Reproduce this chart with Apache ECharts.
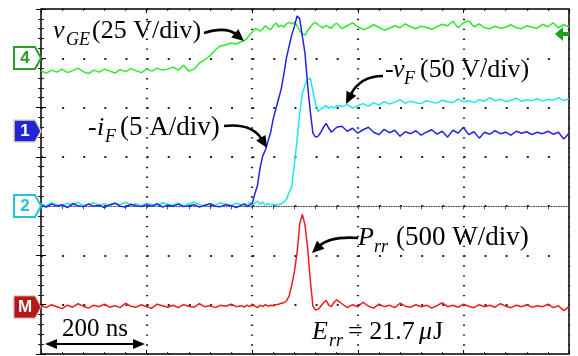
<!DOCTYPE html>
<html>
<head>
<meta charset="utf-8">
<script src="https://cdn.jsdelivr.net/npm/echarts@6.0.0/dist/echarts.min.js"></script>
<style>
html,body{margin:0;padding:0;background:#fff;}
#chart{width:578px;height:356px;}
</style>
</head>
<body>
<div id="chart"></div>
<script>
// time base (ns), 200 ns per horizontal division
const T = [0,10,20,30,40,50,60,70,80,90,100,110,120,130,140,150,160,170,180,190,200,210,220,230,240,250,260,270,280,290,300,310,320,330,340,350,360,370,380,
385,390,395,400,405,410,415,420,425,430,435,440,445,450,455,460,465,470,475,480,485,490,495,500,505,510,515,520,525,530,535,540,545,550,555,560,
570,580,590,600,610,620,630,640,650,660,670,680,690,700,710,720,730,740,750,760,770,780,790,800,810,820,830,840,850,860,870,880,890,900,910,920,930,940,950,960,970,980,990,1000];

// traces in screen divisions (0 = bottom edge, 7 = top edge)
const vGE = [5.74,5.70,5.76,5.72,5.78,5.71,5.75,5.80,5.73,5.69,5.76,5.72,5.78,5.74,5.70,5.77,5.73,5.79,5.75,5.71,5.78,5.74,5.80,5.76,5.78,5.82,5.76,5.86,5.74,5.78,5.90,5.97,6.05,6.17,6.25,6.27,6.31,6.29,6.34,
6.36,6.40,6.47,6.53,6.60,6.59,6.55,6.60,6.66,6.61,6.58,6.66,6.72,6.64,6.67,6.63,6.70,6.73,6.70,6.74,6.66,6.56,6.49,6.47,6.56,6.63,6.70,6.73,6.68,6.64,6.62,6.67,6.63,6.61,6.68,6.71,
6.60,6.66,6.72,6.64,6.58,6.62,6.68,6.63,6.57,6.61,6.66,6.62,6.70,6.64,6.60,6.65,6.63,6.59,6.64,6.69,6.66,6.75,6.62,6.72,6.76,6.64,6.70,6.62,6.60,6.65,6.61,6.63,6.68,6.62,6.60,6.66,6.63,6.61,6.69,6.64,6.72,6.62,6.68,6.64];

const iF = [3.02,2.98,3.04,3.00,3.03,2.97,3.05,3.01,2.99,3.04,3.00,3.02,2.97,3.03,3.06,3.00,2.98,3.04,3.01,2.99,3.03,3.00,3.05,2.98,3.02,3.00,3.04,2.99,3.01,3.03,2.98,3.02,3.05,3.00,2.99,3.03,3.01,2.97,3.02,
3.04,2.99,3.02,3.05,3.25,3.42,3.78,4.02,4.14,4.32,4.50,4.78,4.98,5.18,5.38,5.68,6.02,6.25,6.48,6.65,6.86,6.80,6.45,6.10,5.45,4.92,4.48,4.40,4.42,4.50,4.60,4.68,4.58,4.50,4.55,4.60,
4.62,4.52,4.58,4.48,4.55,4.60,4.50,4.45,4.56,4.49,4.54,4.42,4.51,4.47,4.53,4.44,4.50,4.55,4.46,4.52,4.40,4.54,4.48,4.60,4.45,4.51,4.38,4.50,4.46,4.53,4.47,4.50,4.44,4.52,4.48,4.51,4.45,4.50,4.47,4.52,4.46,4.50,4.36,4.48];

const vF = [3.05,3.01,3.07,3.03,3.00,3.06,3.02,3.08,3.01,3.04,3.07,3.02,3.05,3.00,3.06,3.03,3.08,3.02,3.05,3.01,3.06,3.03,3.00,3.07,3.04,3.02,3.06,3.01,3.05,3.08,3.03,3.00,3.05,3.02,3.07,3.04,3.01,3.06,3.03,
3.05,3.02,3.08,3.03,3.06,3.10,3.04,3.08,3.02,3.05,3.03,3.04,3.02,3.03,3.05,3.08,3.14,3.28,3.40,3.87,4.34,4.89,5.28,5.46,5.56,5.60,5.34,5.08,4.92,4.97,5.00,5.04,4.98,5.02,4.99,5.04,
5.02,5.06,4.99,5.04,5.08,5.03,5.10,5.05,5.12,5.07,5.11,5.16,5.09,5.13,5.10,5.08,5.14,5.11,5.09,5.15,5.12,5.10,5.17,5.12,5.14,5.10,5.16,5.13,5.20,5.14,5.17,5.12,5.15,5.19,5.13,5.16,5.14,5.18,5.13,5.17,5.15,5.20,5.14,5.18];

const Prr = [0.98,0.94,1.00,0.96,0.92,0.99,0.95,1.02,0.97,0.93,0.99,0.96,1.01,0.95,0.98,0.94,1.03,0.97,0.95,1.00,0.96,0.93,1.01,0.98,0.95,0.99,0.94,1.00,0.97,0.95,1.02,0.96,0.98,0.94,0.99,0.97,1.01,0.96,0.98,
0.95,0.99,0.96,1.01,0.97,0.94,0.99,0.96,1.00,0.97,0.99,0.98,1.00,1.01,1.03,1.04,1.08,1.18,1.40,1.68,2.05,2.64,2.83,2.62,2.14,1.50,0.97,0.89,0.91,0.97,1.04,1.09,0.99,0.96,1.05,1.10,
1.02,0.94,1.00,0.96,1.05,0.97,0.93,1.01,0.96,0.99,0.94,1.03,0.97,0.95,1.00,0.96,0.99,0.93,0.98,1.04,0.96,0.99,0.95,1.01,0.97,0.94,1.00,0.96,0.99,0.95,1.02,0.97,0.94,0.99,0.96,1.00,0.95,0.98,0.96,1.01,0.94,0.98,0.88,0.96];

const X_RANGE = [0, 1000];   // ns
const Y_RANGE = [0, 7];      // divisions
const CENTER_DIV = 3;

const pairs = arr => T.map((t, i) => [t, arr[i]]);

const SERIF = '"Liberation Serif", "Times New Roman", serif';
function txt(str, x, baseline, size, italic) {
  return {
    type: 'text', x: x, y: baseline - 0.34 * size, z: 100,
    style: {
      text: str, fill: '#000',
      font: (italic ? 'italic ' : '') + size + 'px ' + SERIF,
      textAlign: 'left', textVerticalAlign: 'middle'
    }
  };
}
function curvedArrow(sx, sy, cx, cy, ex, ey) {
  const dx = ex - cx, dy = ey - cy, L = Math.hypot(dx, dy);
  const ux = dx / L, uy = dy / L, hl = 12, hw = 5.5;
  const bx = ex - ux * hl, by = ey - uy * hl;
  return [
    { type: 'bezierCurve', z: 100, shape: { x1: sx, y1: sy, x2: bx + ux * 2, y2: by + uy * 2, cpx1: cx, cpy1: cy },
      style: { stroke: '#000', lineWidth: 2.6, fill: null } },
    { type: 'polygon', z: 100, shape: { points: [[ex, ey], [bx - uy * hw, by + ux * hw], [bx + uy * hw, by - ux * hw]] },
      style: { fill: '#000' } }
  ];
}
function marker(label, cy, fill, stroke, textColor, lw) {
  return [
    { type: 'polygon', z: 100, shape: { points: [[14, cy - 11], [35, cy - 11], [41, cy], [35, cy + 11], [14, cy + 11]] },
      style: { fill: fill, stroke: stroke, lineWidth: lw } },
    { type: 'text', z: 101, x: 25, y: cy, style: { text: label, fill: textColor,
      font: 'bold 17px "Liberation Sans", Arial, sans-serif', textAlign: 'center', textVerticalAlign: 'middle' } }
  ];
}

const elements = [].concat(
  marker('4', 58, '#ffffff', '#2a9d2a', '#2a9d2a', 2),
  marker('1', 131, '#2323d8', '#e6d9a6', '#ffffff', 1.5),
  marker('2', 206, '#ffffff', '#22c4d4', '#22c4d4', 2),
  marker('M', 307, '#b41818', '#e2a0a0', '#ffffff', 1),
  [
    { type: 'polygon', z: 100, shape: { points: [[555, 34], [563, 27], [563, 41]] }, style: { fill: '#1fa01f' } },
    { type: 'rect', z: 100, shape: { x: 562, y: 32, width: 7, height: 4 }, style: { fill: '#1fa01f' } }
  ],
  // labels
  [
    txt('v', 53, 40, 26, true), txt('GE', 66, 46, 18, true), txt('(25 V/div)', 92, 40, 26, false),
    txt('-', 385, 79, 26, false), txt('v', 393, 79, 26, true), txt('F', 404, 85, 18, true), txt('(50 V/div)', 420, 79, 26, false),
    txt('-', 88, 137, 26, false), txt('i', 97, 137, 26, true), txt('F', 105, 143, 18, true), txt('(5 A/div)', 120, 137, 27, false),
    txt('P', 358, 247, 26, true), txt('rr', 374, 253, 18, true), txt('(500 W/div)', 396, 247, 27, false),
    txt('E', 312, 341, 26, true), txt('rr', 329, 347, 18, true), txt('= 21.7', 348, 341, 26, false),
    txt('\u03bc', 419, 341, 26, true), txt('J', 433, 341, 26, false),
    txt('200 ns', 62, 338, 25, false)
  ],
  curvedArrow(204, 33, 226, 26, 244, 41),
  curvedArrow(383, 76, 360, 76, 346, 104),
  curvedArrow(224, 126, 252, 123, 267, 148),
  curvedArrow(358, 238, 330, 236, 312, 253),
  [
    { type: 'line', z: 100, shape: { x1: 54, y1: 344, x2: 136, y2: 344 }, style: { stroke: '#000', lineWidth: 2 } },
    { type: 'polygon', z: 100, shape: { points: [[45, 344], [57, 339], [57, 349]] }, style: { fill: '#000' } },
    { type: 'polygon', z: 100, shape: { points: [[145, 344], [133, 339], [133, 349]] }, style: { fill: '#000' } }
  ]
);

const dotGray = '#222';
const chart = echarts.init(document.getElementById('chart'), null, { renderer: 'canvas' });
chart.setOption({
  animation: false,
  backgroundColor: '#ffffff',
  grid: { left: 41, right: 9, top: 9, bottom: 2, show: true, borderColor: '#000', borderWidth: 1.5, backgroundColor: 'transparent' },
  xAxis: [
    { type: 'value', position: 'bottom', min: X_RANGE[0], max: X_RANGE[1], interval: 200,
      axisLabel: { show: false }, axisLine: { show: false, onZero: false },
      axisTick: { show: true, inside: true, length: 4, lineStyle: { color: '#000' } },
      minorTick: { show: true, splitNumber: 5, length: 2, lineStyle: { color: '#333' } },
      splitLine: { show: true, lineStyle: { color: dotGray, width: 2.2, type: [1.4, 8.46] } } },
    { type: 'value', position: 'top', min: X_RANGE[0], max: X_RANGE[1], interval: 200,
      axisLabel: { show: false }, axisLine: { show: false, onZero: false },
      axisTick: { show: true, inside: true, length: 4, lineStyle: { color: '#000' } },
      minorTick: { show: true, splitNumber: 5, length: 2, lineStyle: { color: '#333' } },
      splitLine: { show: false } },
    { type: 'value', position: 'bottom', min: X_RANGE[0], max: X_RANGE[1], interval: 40,
      axisLabel: { show: false },
      axisLine: { show: true, onZero: true, onZeroAxisIndex: 2, lineStyle: { color: '#444', width: 1, type: [1, 1.5] } },
      axisTick: { show: true, length: 3, lineStyle: { color: '#444' } },
      splitLine: { show: false } }
  ],
  yAxis: [
    { type: 'value', position: 'left', min: Y_RANGE[0], max: Y_RANGE[1], interval: 1,
      axisLabel: { show: false }, axisLine: { show: false },
      axisTick: { show: true, inside: true, length: 5, lineStyle: { color: '#000' } },
      minorTick: { show: true, splitNumber: 5, length: 3, lineStyle: { color: '#222' } },
      splitLine: { show: true, lineStyle: { color: dotGray, width: 2, type: [2, 19.12] } } },
    { type: 'value', position: 'right', min: Y_RANGE[0], max: Y_RANGE[1], interval: 1,
      axisLabel: { show: false }, axisLine: { show: false },
      axisTick: { show: true, inside: true, length: 5, lineStyle: { color: '#000' } },
      minorTick: { show: true, splitNumber: 5, length: 3, lineStyle: { color: '#222' } },
      splitLine: { show: false } },
    { type: 'value', show: false, position: 'left', min: Y_RANGE[0] - CENTER_DIV, max: Y_RANGE[1] - CENTER_DIV, interval: 1,
      splitLine: { show: false } }
  ],
  series: [
    { name: 'vGE', type: 'line', xAxisIndex: 0, yAxisIndex: 0, data: pairs(vGE), showSymbol: false, symbol: 'none',
      lineStyle: { color: '#2ee82e', width: 1.5 }, z: 3 },
    { name: '-vF', type: 'line', xAxisIndex: 0, yAxisIndex: 0, data: pairs(vF), showSymbol: false, symbol: 'none',
      lineStyle: { color: '#1ee6ea', width: 1.5 }, z: 3 },
    { name: '-iF', type: 'line', xAxisIndex: 0, yAxisIndex: 0, data: pairs(iF), showSymbol: false, symbol: 'none',
      lineStyle: { color: '#2424e0', width: 1.5 }, z: 4 },
    { name: 'Prr', type: 'line', xAxisIndex: 0, yAxisIndex: 0, data: pairs(Prr), showSymbol: false, symbol: 'none',
      lineStyle: { color: '#f01c1c', width: 1.5 }, z: 3 }
  ],
  graphic: { elements: elements }
});
</script>
</body>
</html>
